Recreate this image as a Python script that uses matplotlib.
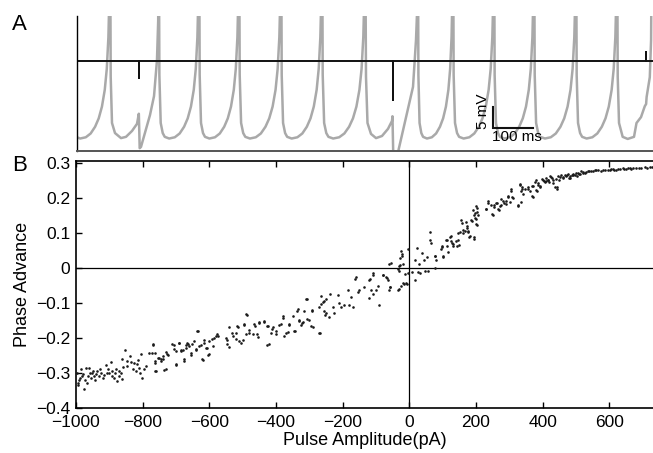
import numpy as np
import matplotlib
matplotlib.use("Agg")
import matplotlib.pyplot as plt

plt.rcParams['font.family'] = ['Liberation Sans', 'DejaVu Sans']

# ---------------- Panel A data (time in ms, voltage in mV) ----------------
spike_ms = [-18, 81.3, 201.2, 300.5, 399, 502.5, 603.4, 709.4, 839.4, 926,
            1027, 1125.6, 1229, 1330, 1416.3]
# shape of an unperturbed interspike interval: phase (0..1) and voltage
isi_phase = [0.0, 0.017, 0.05, 0.1, 0.15, 0.26, 0.4, 0.52, 0.63, 0.72, 0.8,
             0.87, 0.92, 0.96, 0.985]
isi_mv = [0.0, -44.0, -55.4, -57.8, -58.7, -59.1, -58.8, -57.9, -56.3, -54.3,
          -51.5, -47.5, -42.5, -35.0, -25.0]
# perturbed intervals
pert1_t = [81.3, 83.0, 86.2, 93.6, 108.4, 120.7, 135.5, 147.8, 152.3, 154.4,
           157.6, 179.8, 189.7, 197.0, 200.0]
pert1_v = [0.0, -44.4, -55.4, -57.8, -59.0, -58.7, -57.3, -55.6, -53.2, -61.4,
           -61.1, -53.5, -49.0, -40.4, -31.0]
pert2_t = [709.4, 711.8, 715.5, 724.1, 736.5, 751.2, 766.0, 775.9, 777.0,
           779.1, 787.7, 790.1, 827.6, 835.0, 838.0]
pert2_v = [0.0, -44.4, -55.4, -58.0, -59.0, -58.5, -56.8, -54.9, -53.8,
           -63.7, -63.7, -62.6, -46.8, -35.6, -28.0]
pert3_t = [1330.0, 1331.8, 1335.0, 1344.0, 1356.4, 1371.9, 1378.1, 1389.2,
           1398.5, 1401.7, 1403.0, 1410.8, 1414.0]
pert3_v = [0.0, -44.4, -55.4, -58.7, -59.2, -58.7, -55.4, -54.0, -51.4,
           -50.9, -49.2, -44.5, -35.6]

stim_baseline = -40.6
pulse_ms = [152.7, 778.3, 1401.5]
pulse_height = [-4.05, -9.3, 2.1]

# ---------------- Panel B data ----------------
x1 = [-997,-995,-990,-985,-982,-976,-970,-968,-962,-958,-954,-948,-945,-942,-938,
      -932,-925,-917,-911,-905,-901,-896,-891,-886,-880,-876,-870,-866,-861,-858,
      -853,-846,-839,-835,-826,-821,-815,-811,-806,-801,-796,-790,-781,-770,-769,
      -763,-761,-753,-746,-739,-731,-726,-711,-706,-705,-701,-700,-691,-690,-686,
      -680,-676,-675,-671,-670,-666,-660,-656,-655,-651,-645,-641,-640,-636,-635,
      -631,-625,-621,-620,-616,-615,-610,-606,-605,-601]
y1 = [-0.30,-0.33,-0.32,-0.29,-0.31,-0.346,-0.286,-0.33,-0.286,-0.30,
      -0.315,-0.296,-0.31,-0.32,-0.295,-0.31,-0.30,-0.307,-0.277,-0.29,
      -0.30,-0.271,-0.296,-0.315,-0.29,-0.325,-0.31,-0.30,-0.262,-0.285,
      -0.235,-0.267,-0.252,-0.27,-0.273,-0.296,-0.265,-0.286,-0.248,-0.315,
      -0.289,-0.28,-0.243,-0.22,-0.219,-0.267,-0.296,-0.257,-0.262,-0.252,
      -0.29,-0.248,-0.219,-0.233,-0.22,-0.276,-0.277,-0.214,-0.214,-0.238,
      -0.235,-0.262,-0.268,-0.229,-0.22,-0.214,-0.225,-0.243,-0.249,-0.219,
      -0.21,-0.233,-0.235,-0.181,-0.182,-0.224,-0.22,-0.262,-0.263,-0.214,
      -0.206,-0.23,-0.229,-0.25,-0.248]
x2 = [-600,-591,-590,-585,-581,-576,-575,-551,-547,-546,-541,-540,-531,-530,-521,
      -520,-516,-515,-510,-506,-500,-496,-495,-490,-489,-487,-481,-480,-470,-466,
      -462,-456,-455,-451,-450,-436,-435,-428,-426,-425,-421,-415,-411,-410,-401,
      -400,-390,-386,-379,-378,-375,-371,-365,-361,-360,-350,-346,-342,-336,-335,
      -331,-330,-325,-321,-320,-315,-311,-308,-306,-300]
y2 = [-0.21,-0.205,-0.225,-0.20,-0.195,-0.19,-0.194,-0.20,-0.206,-0.219,
      -0.171,-0.227,-0.186,-0.194,-0.205,-0.186,-0.167,-0.17,-0.21,-0.214,
      -0.206,-0.162,-0.163,-0.19,-0.133,-0.136,-0.186,-0.178,-0.19,-0.162,
      -0.166,-0.19,-0.197,-0.157,-0.156,-0.154,-0.152,-0.222,-0.167,-0.166,
      -0.219,-0.186,-0.176,-0.171,-0.181,-0.19,-0.163,-0.162,-0.138,-0.144,
      -0.194,-0.186,-0.185,-0.162,-0.163,-0.139,-0.181,-0.182,-0.124,-0.117,
      -0.152,-0.149,-0.163,-0.157,-0.155,-0.124,-0.09,-0.09,-0.148,-0.149]
x3 = [-296,-292,-291,-290,-272,-271,-268,-266,-265,-260,-256,-255,-252,-251,-250,
      -240,-238,-230,-225,-215,-210,-205,-195,-185,-180,-175,-170,-164,-160,-155,
      -150,-135,-122,-120,-118,-115,-110,-108,-108,-100,-95,-92,-80,-78,-70,
      -68,-65,-62,-60,-58,-58,-55,-35,-34,-32,-32,-30,-28,-27,-25,
      -24,-22,-22,-20,-19,-15,-12,-9,-8,-5,-5]
y3 = [-0.167,-0.124,-0.12,-0.17,-0.113,-0.186,-0.187,-0.105,-0.08,-0.097,
      -0.095,-0.125,-0.135,-0.129,-0.09,-0.14,-0.074,-0.113,-0.13,-0.077,
      -0.10,-0.113,-0.107,-0.065,-0.107,-0.084,-0.113,-0.032,-0.028,-0.07,
      -0.065,-0.055,-0.036,-0.088,-0.032,-0.065,-0.02,-0.074,-0.015,-0.063,
      -0.051,-0.107,-0.022,-0.022,-0.027,-0.029,-0.036,-0.063,0.01,-0.055,
      -0.055,0.013,-0.063,-0.005,-0.009,-0.061,0.005,0.029,0.009,-0.051,
      0.047,0.04,0.032,0.011,-0.044,-0.048,-0.018,-0.044,-0.048,0.053,-0.015]
x4 = [8,16,18,23,26,28,32,38,43,48,53,55,61,63,66,78,78,81,96,99,101,109,113,116,
      124,126,131,141,143,146,151,156,161,166,171,173,176,181,186,191,193,194,196,199]
y4 = [-0.013,-0.034,0.023,0.056,-0.013,0.011,-0.015,0.042,0.021,-0.01,
      0.03,-0.01,0.101,0.08,0.07,0.034,-0.002,0.023,0.053,0.061,
      0.032,0.078,0.063,0.046,0.09,0.076,0.069,0.076,0.063,0.099,
      0.103,0.135,0.108,0.106,0.132,0.118,0.101,0.091,0.137,0.164,
      0.089,0.151,0.141,0.177]
x5 = [201,203,229,236,246,249,253,259,266,271,276,283,289,296,303,306,309,326,331,334,
      336,339,346,356,361,369,371,379,381,386,391,399,403,411,419,423,436,441,443,451,
      466,471,479,483,491,496,506,516,526,536,546,556,566,586,601,611,621,631,641,651,
      661,671,696,706,721]
y5 = [0.125,0.158,0.168,0.19,0.18,0.154,0.173,0.185,0.168,0.177,
      0.196,0.185,0.19,0.204,0.187,0.225,0.203,0.18,0.24,0.187,
      0.219,0.23,0.225,0.23,0.219,0.204,0.234,0.25,0.222,0.242,
      0.233,0.254,0.247,0.257,0.245,0.261,0.23,0.254,0.23,0.26,
      0.266,0.261,0.257,0.263,0.269,0.266,0.272,0.275,0.27,0.275,
      0.277,0.278,0.278,0.278,0.278,0.282,0.28,0.282,0.284,0.283,
      0.286,0.285,0.285,0.287,0.288]
x6 = [410,415,428,432,445,455,460,475,488,500,510,520,530,540,550,
      560,575,580,595,605,615,625,645,655,665,680,690,712,728]
y6 = [0.248,0.252,0.255,0.25,0.262,0.265,0.258,0.268,0.265,0.27,
      0.268,0.272,0.274,0.276,0.275,0.279,0.277,0.280,0.279,0.281,
      0.28,0.283,0.282,0.284,0.283,0.285,0.284,0.286,0.289]
x7 = [77,97,102,112,122,127,132,147,150,157,162,172,177,180,187,194,197,200,204,207,
      204,230,237,250,254,262,270,275,282,290,297,304,310,327,332,337,340,357,367,372,
      377,382,387,392,400,407,417,424,432,442,450,462,472,482,492,502,512,520]
y7 = [0.033,0.06,0.03,0.079,0.087,0.072,0.061,0.078,0.066,0.128,
      0.099,0.113,0.104,0.087,0.133,0.083,0.157,0.138,0.171,0.152,
      0.121,0.167,0.186,0.151,0.18,0.184,0.165,0.18,0.191,0.182,
      0.201,0.22,0.198,0.176,0.235,0.224,0.211,0.226,0.233,0.201,
      0.245,0.22,0.237,0.23,0.252,0.245,0.252,0.258,0.242,0.226,
      0.252,0.257,0.265,0.257,0.266,0.262,0.268,0.274]
x8 = [-773,-764,-764,-764,-750,-745,-740,-735,-730,-725,-700,-685,-665]
y8 = [-0.244,-0.244,-0.272,-0.296,-0.258,-0.268,-0.261,-0.292,-0.242,-0.251,
      -0.239,-0.235,-0.219]
x9 = [-993,-988,-979,-973,-964,-952,-940,-928,-920,-908,-893,-883,-872,-862,-848,
      -830,-818,-808]
y9 = [-0.335,-0.315,-0.305,-0.322,-0.31,-0.30,-0.305,-0.29,-0.315,-0.30,-0.31,-0.30,
      -0.295,-0.318,-0.28,-0.29,-0.275,-0.30]

x_ticks = [-1000, -800, -600, -400, -200, 0, 200, 400, 600]
y_ticks = [-0.4, -0.3, -0.2, -0.1, 0, 0.1, 0.2, 0.3]

# ---------------- figure ----------------
W, H = 653, 453
fig = plt.figure(figsize=(W / 100, H / 100), dpi=100)

# Panel A
axA = fig.add_axes([77 / W, 1 - 150.7 / H, (W - 77) / W, (150.7 - 16) / H])
custom = {1: (pert1_t, pert1_v), 7: (pert2_t, pert2_v), 13: (pert3_t, pert3_v)}
tr_t, tr_v = [], []
for i in range(len(spike_ms) - 1):
    t0, t1 = spike_ms[i], spike_ms[i + 1]
    if i in custom:
        ts, vs = custom[i]
    else:
        ts = [t0 + p * (t1 - t0) for p in isi_phase]
        vs = isi_mv
    tr_t.extend(ts)
    tr_v.extend(vs)
tr_t.append(spike_ms[-1])
tr_v.append(0.0)
axA.plot(tr_t, tr_v, color='#a9a9a9', lw=1.8, solid_joinstyle='round')

st_t, st_v = [0.0], [stim_baseline]
for pt, ph in zip(pulse_ms, pulse_height):
    st_t += [pt, pt, pt]
    st_v += [stim_baseline, stim_baseline + ph, stim_baseline]
st_t.append(1500)
st_v.append(stim_baseline)
axA.plot(st_t, st_v, color='#111111', lw=1.4)

# scale bar
sb_t0, sb_v0 = 1023.9, -56.5
axA.plot([sb_t0, sb_t0, sb_t0 + 100], [sb_v0 + 5, sb_v0, sb_v0], color='#111111', lw=1.5,
         solid_joinstyle='miter')
axA.text(sb_t0 - 7, sb_v0 + 3.8, '5 mV', rotation=90, ha='right', va='center', fontsize=11)
axA.text(sb_t0 + 60, sb_v0 - 0.5, '100 ms', ha='center', va='top', fontsize=11)

axA.set_xlim(0, 1418.7)
axA.set_ylim(-62, -29.93)
axA.set_xticks([])
axA.set_yticks([])
for s in ['top', 'right']:
    axA.spines[s].set_visible(False)
axA.spines['left'].set_linewidth(1.0)
axA.spines['bottom'].set_linewidth(1.4)
axA.spines['bottom'].set_color('#555555')

# Panel B
axB = fig.add_axes([76 / W, 1 - 407.6 / H, (W - 76) / W, (407.6 - 161) / H])
for xs, ys in [(x1, y1), (x2, y2), (x3, y3), (x4, y4), (x5, y5), (x6, y6),
               (x7, y7), (x8, y8), (x9, y9)]:
    axB.scatter(xs, ys, s=3.5, color='#1a1a1a', linewidths=0, zorder=3)
axB.axhline(0, color='black', lw=0.9, zorder=2)
axB.axvline(0, color='black', lw=0.9, zorder=2)
axB.set_xlim(-1000, 731)
axB.set_ylim(-0.4, 0.305)
axB.set_xticks(x_ticks)
axB.set_yticks(y_ticks)
axB.set_yticklabels(['\u22120.4', '\u22120.3', '\u22120.2', '\u22120.1', '0', '0.1', '0.2', '0.3'])
axB.tick_params(direction='in', top=True, right=False, length=4, width=1.0,
                labelsize=12.5)
axB.tick_params(axis='x', pad=5)
axB.tick_params(axis='y', pad=4)
axB.spines['right'].set_visible(False)
for s in ['left', 'bottom', 'top']:
    axB.spines[s].set_linewidth(1.2)
axB.set_xlabel('Pulse Amplitude(pA)', fontsize=13, labelpad=2)
axB.set_ylabel('Phase Advance', fontsize=13, labelpad=4)

fig.text(12 / W, 1 - 14 / H, 'A', fontsize=16, va='top', ha='left')
fig.text(12 / W, 1 - 155 / H, 'B', fontsize=16, va='top', ha='left')

fig.savefig('out.png', dpi=100)
